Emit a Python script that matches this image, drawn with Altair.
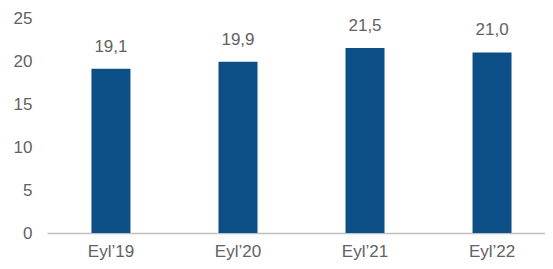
import altair as alt
import pandas as pd

categories = ["Eyl’19", "Eyl’20", "Eyl’21", "Eyl’22"]
values = [19.1, 19.9, 21.5, 21.0]
value_labels = ["19,1", "19,9", "21,5", "21,0"]

df = pd.DataFrame({"cat": categories, "val": values, "lab": value_labels})

FONT = "Liberation Sans"
GRAY = "#626262"

x = alt.X("cat:N", sort=categories, title=None,
          scale=alt.Scale(range=[0, 509], paddingInner=0.693, paddingOuter=0.35),
          axis=alt.Axis(labelAngle=0, ticks=False, labelPadding=10, labelFontSize=17,
                        labelColor=GRAY, labelFont=FONT, domainColor="#bfbfbf",
                        domainWidth=1.5))
y = alt.Y("val:Q", title=None,
          scale=alt.Scale(domain=[0, 25]),
          axis=alt.Axis(values=[0, 5, 10, 15, 20, 25], ticks=False, domain=False,
                        grid=False, labelPadding=15, labelFontSize=17,
                        labelColor=GRAY, labelFont=FONT))

bars = alt.Chart(df).mark_bar(color="#0c4f87").encode(x=x, y=y)
text = alt.Chart(df).mark_text(baseline="bottom", dy=-13, fontSize=17, color=GRAY,
                               font=FONT).encode(x=x, y=y, text="lab:N")

chart = (bars + text).properties(
    width=498, height=215,
    autosize=alt.AutoSizeParams(type="none"),
    padding={"left": 39, "top": 10, "right": 0, "bottom": 28},
).configure_view(stroke=None)

chart.save("out.html", embed_options={"renderer": "svg", "actions": False})
